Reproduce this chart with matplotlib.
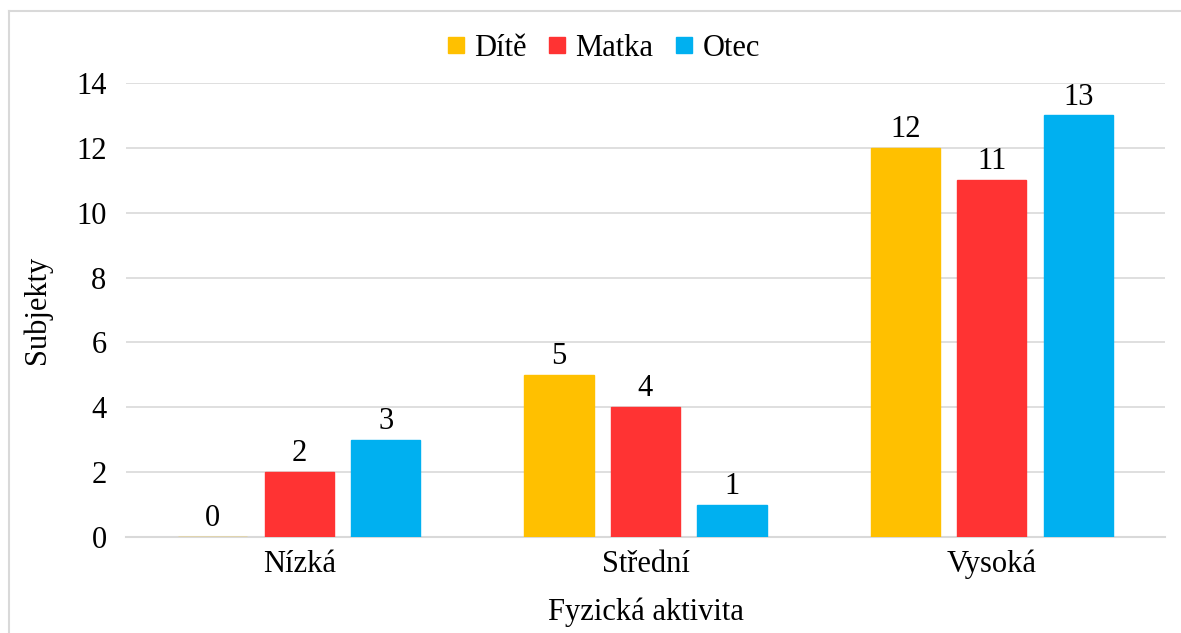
import matplotlib.pyplot as plt
from matplotlib.lines import Line2D
import numpy as np

categories = ["Nízká", "Střední", "Vysoká"]
series_names = ["Dítě", "Matka", "Otec"]
dite = [0, 5, 12]
matka = [2, 4, 11]
otec = [3, 1, 13]
colors = ["#FFC000", "#FF3333", "#00B0F0"]

plt.rcParams['font.family'] = ['Liberation Serif', 'DejaVu Serif']
fs = 22

fig = plt.figure(figsize=(11.81, 6.33), dpi=100)
ax = fig.add_axes([126 / 1181, 1 - 537 / 633, (1165 - 126) / 1181, (537 - 83) / 633])

x = np.arange(len(categories))
width = 0.2
offsets = [-0.25, 0, 0.25]
for vals, off, col, name in zip([dite, matka, otec], offsets, colors, series_names):
    bars = ax.bar(x + off, vals, width, color=col, label=name, zorder=3,
                  edgecolor=col, linewidth=1.0)
    for b, v in zip(bars, vals):
        ax.text(b.get_x() + b.get_width() / 2, v + 0.12, str(v),
                ha="center", va="bottom", fontsize=fs)

ax.set_xlim(-0.5, 2.5)
ax.set_ylim(0, 14)
ax.set_yticks(range(0, 15, 2))
ax.set_xticks(x)
ax.set_xticklabels(categories)
ax.tick_params(axis="both", length=0, labelsize=fs)
ax.tick_params(axis="y", pad=14)
ax.tick_params(axis="x", pad=9)
ax.grid(axis="y", color="#D9D9D9", linewidth=1.2, zorder=0)
for s in ["top", "right", "left"]:
    ax.spines[s].set_visible(False)
ax.spines["bottom"].set_color("#D9D9D9")
ax.spines["bottom"].set_linewidth(1.5)

ax.set_ylabel("Subjekty", fontsize=fs, labelpad=17)
ax.set_xlabel("Fyzická aktivita", fontsize=fs, labelpad=13)

handles = [Line2D([0], [0], marker="s", linestyle="none", markersize=12,
                  markerfacecolor=c, markeredgecolor=c) for c in colors]
fig.legend(handles, series_names, loc="center", bbox_to_anchor=(600 / 1181, 1 - 48 / 633),
           ncol=3, frameon=False, fontsize=fs, handletextpad=0.1, columnspacing=0.5,
           handlelength=1.0)

# chart border (only left and top visible in the crop)
fig.add_artist(Line2D([9 / 1181, 9 / 1181], [0, 1 - 11 / 633], color="#D9D9D9", linewidth=1.5))
fig.add_artist(Line2D([9 / 1181, 1], [1 - 11 / 633, 1 - 11 / 633], color="#D9D9D9", linewidth=1.5))

plt.savefig("out.png", dpi=100)
plt.close(fig)
